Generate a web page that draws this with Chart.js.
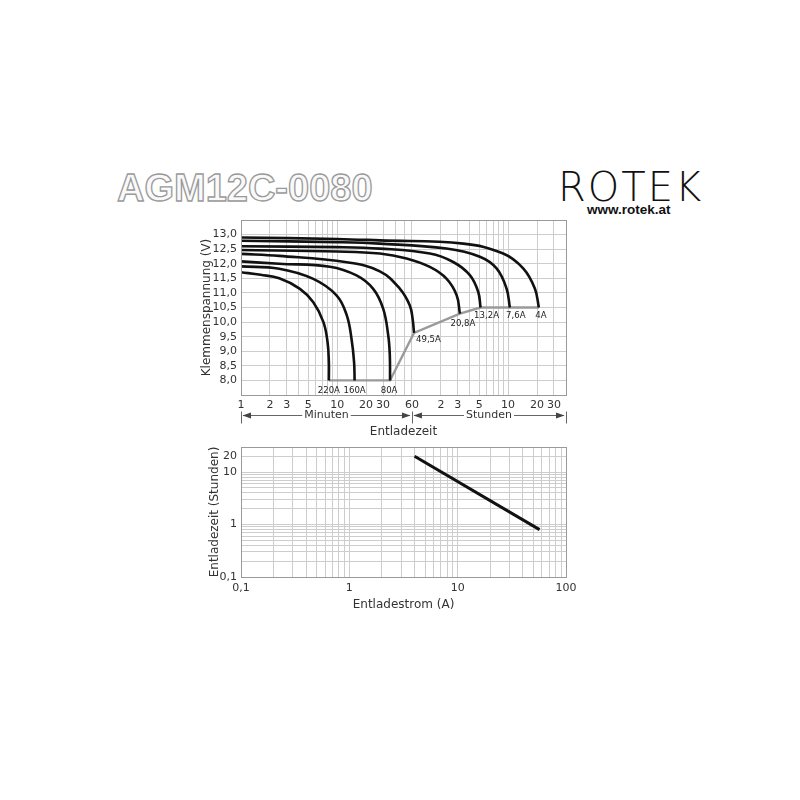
<!DOCTYPE html>
<html>
<head>
<meta charset="utf-8">
<title>AGM12C-0080</title>
<script src="https://cdn.jsdelivr.net/npm/chart.js@4.4.0/dist/chart.umd.min.js"></script>
<style>
    body { margin: 0; background: #fff; }
    #page { position: relative; width: 800px; height: 800px; overflow: hidden; }
    #page canvas { position: absolute; left: 0; top: 0; }
    #model { position: absolute; left: 117px; top: 168px; font: bold 38px "Liberation Sans", Arial, sans-serif; line-height: 40px; color: #f9f9f9; -webkit-text-stroke: 1.3px #9a9a9a; }
    #logo { position: absolute; left: 558px; top: 166px; font: 200 40px "DejaVu Sans", sans-serif; line-height: 42px; letter-spacing: 2px; color: #111; }
    #url { position: absolute; left: 587px; top: 202px; font: bold 13.5px "Liberation Sans", Arial, sans-serif; line-height: 15px; color: #111; }
</style>
</head>
<body>
<div id="page">
    <div id="model">AGM12C-0080</div>
    <div id="logo">ROTEK</div>
    <div id="url">www.rotek.at</div>
    <canvas id="voltChart" width="800" height="800"></canvas>
    <canvas id="timeChart" width="800" height="800"></canvas>
</div>
<script>
// discharge curves: [minutes, volts]
var currentLabels = ['220A', '160A', '80A', '49,5A', '20,8A', '13,2A', '7,6A', '4A'];
var curve220 = [[1, 11.71], [1.6, 11.62], [2.5, 11.5], [4.1, 11.14], [5.65, 10.68], [7.2, 10.0], [7.95, 9.31], [8.2, 8.63], [8.2, 8.0]];
var curve160 = [[1, 11.91], [2.5, 11.83], [5.65, 11.48], [9.9, 10.91], [12.6, 10.23], [14.1, 9.43], [15.0, 8.63], [15.2, 8.0]];
var curve80 = [[1, 12.08], [2.5, 12.0], [8.4, 11.9], [15.9, 11.6], [23.7, 11.14], [30.1, 10.46], [34, 9.54], [35.3, 8.86], [35.5, 8.0]];
var curve49 = [[1, 12.34], [2.5, 12.27], [12.6, 12.05], [27.8, 11.74], [45, 11.14], [57, 10.57], [61, 10.1], [63, 9.63]];
var curve20 = [[1, 12.47], [10, 12.42], [27.8, 12.35], [52.7, 12.18], [92, 11.89], [137, 11.49], [175, 10.92], [189, 10.29]];
var curve13 = [[1, 12.6], [10, 12.57], [27.8, 12.52], [92, 12.35], [161, 12.06], [240, 11.61], [293, 11.04], [310, 10.5]];
var curve7 = [[1, 12.79], [10, 12.74], [27.8, 12.69], [137, 12.52], [305, 12.24], [455, 11.84], [578, 11.15], [625, 10.5]];
var curve4 = [[1, 12.9], [10, 12.85], [27.8, 12.8], [205, 12.69], [533, 12.35], [861, 11.84], [1138, 11.15], [1253, 10.5]];
var cutoffLine = [[8.2, 8.0], [35.5, 8.0], [63, 9.63], [189, 10.29], [310, 10.5], [1253, 10.5]];

var timeTicks = [1, 2, 3, 4, 5, 6, 7, 8, 9, 10, 20, 30, 40, 50, 60, 120, 180, 240, 300, 360, 420, 480, 540, 600, 1200, 1800, 2400];
var timeTickText = ['1', '2', '3', '', '5', '', '', '', '', '10', '20', '30', '', '', '60', '2', '3', '', '5', '', '', '', '', '10', '20', '30', ''];

// discharge time vs current: [amps, hours]
var timeVsCurrent = [[4, 20], [57, 0.8]];
var ampTicks = [0.1, 0.2, 0.3, 0.4, 0.5, 0.6, 0.7, 0.8, 0.9, 1, 2, 3, 4, 5, 6, 7, 8, 9, 10, 20, 30, 40, 50, 60, 70, 80, 90, 100];
var ampTickText = { 0.1: '0,1', 1: '1', 10: '10', 100: '100' };
var hourTicks = [0.1, 0.2, 0.3, 0.4, 0.5, 0.6, 0.7, 0.8, 0.9, 1, 2, 3, 4, 5, 6, 7, 8, 9, 10, 20, 30];
var hourTickText = { 0.1: '0,1', 1: '1', 10: '10', 20: '20' };

var curves = [curve220, curve160, curve80, curve49, curve20, curve13, curve7, curve4];

var tickFont = { family: '"DejaVu Sans", Verdana, sans-serif', size: 11 };
var textColor = '#333';
var gridColor = '#cdcdcd';

function toXY(list) {
    return list.map(function (p) { return { x: p[0], y: p[1] }; });
}

// grey frame round the plot area
var framePlugin = {
    id: 'frame',
    afterDraw: function (chart) {
        var a = chart.chartArea, ctx = chart.ctx;
        ctx.save();
        ctx.strokeStyle = '#9a9a9a';
        ctx.lineWidth = 1;
        ctx.strokeRect(Math.round(a.left) + 0.5, Math.round(a.top) + 0.5, Math.round(a.right - a.left), Math.round(a.bottom - a.top));
        ctx.restore();
    }
};

// current labels at the end of each curve
var labelOffsets = [[0, 10, 'center'], [0, 10, 'center'], [-1, 10, 'center'], [2, 7, 'left'], [3, 10, 'center'], [6, 8, 'center'], [6, 8, 'center'], [2, 8, 'center']];
var curveLabelPlugin = {
    id: 'curveLabels',
    afterDatasetsDraw: function (chart) {
        var ctx = chart.ctx, xs = chart.scales.x, ys = chart.scales.y;
        ctx.save();
        ctx.font = '9.5px "DejaVu Sans Condensed", "DejaVu Sans", sans-serif';
        ctx.fillStyle = '#222';
        ctx.textBaseline = 'middle';
        curves.forEach(function (c, i) {
            var end = c[c.length - 1];
            var off = labelOffsets[i];
            ctx.textAlign = off[2];
            ctx.fillText(currentLabels[i], xs.getPixelForValue(end[0]) + off[0], ys.getPixelForValue(end[1]) + off[1]);
        });
        ctx.restore();
    }
};

// Minuten / Stunden arrows under the time axis
var arrowPlugin = {
    id: 'timeArrows',
    afterDraw: function (chart) {
        var ctx = chart.ctx, xs = chart.scales.x;
        var y = Math.round(chart.chartArea.bottom) + 20.5;
        var a = xs.getPixelForValue(1), b = xs.getPixelForValue(60), c = xs.getPixelForValue(2400);
        ctx.save();
        ctx.strokeStyle = '#666';
        ctx.fillStyle = '#444';
        ctx.lineWidth = 1;
        [a, b, c].forEach(function (x) {
            ctx.beginPath();
            ctx.moveTo(Math.round(x) + 0.5, y - 4);
            ctx.lineTo(Math.round(x) + 0.5, y + 8);
            ctx.stroke();
        });
        function segment(x1, x2, text) {
            ctx.beginPath();
            ctx.moveTo(x1 + 2, y);
            ctx.lineTo(x2 - 2, y);
            ctx.stroke();
            ctx.beginPath();
            ctx.moveTo(x1 + 1.5, y); ctx.lineTo(x1 + 10, y - 3); ctx.lineTo(x1 + 10, y + 3);
            ctx.closePath(); ctx.fill();
            ctx.beginPath();
            ctx.moveTo(x2 - 1.5, y); ctx.lineTo(x2 - 10, y - 3); ctx.lineTo(x2 - 10, y + 3);
            ctx.closePath(); ctx.fill();
            ctx.font = '11px "DejaVu Sans", Verdana, sans-serif';
            var w = ctx.measureText(text).width;
            var mid = (x1 + x2) / 2;
            ctx.fillStyle = '#fff';
            ctx.fillRect(mid - w / 2 - 2, y - 6, w + 4, 12);
            ctx.fillStyle = textColor;
            ctx.textAlign = 'center';
            ctx.textBaseline = 'middle';
            ctx.fillText(text, mid, y);
            ctx.fillStyle = '#444';
        }
        segment(a, b, 'Minuten');
        segment(b, c, 'Stunden');
        ctx.restore();
    }
};

var voltDatasets = curves.map(function (c) {
    return {
        data: toXY(c),
        borderColor: '#111',
        borderWidth: 2.6,
        pointRadius: 0,
        fill: false,
        tension: 0.4
    };
});
voltDatasets.push({
    data: toXY(cutoffLine),
    borderColor: '#9a9a9a',
    borderWidth: 2.4,
    pointRadius: 0,
    fill: false,
    tension: 0
});

new Chart(document.getElementById('voltChart').getContext('2d'), {
    type: 'line',
    data: { datasets: voltDatasets },
    options: {
        responsive: false,
        animation: false,
        layout: { padding: { left: 200, right: 234, top: 220, bottom: 361 } },
        plugins: { legend: { display: false }, tooltip: { enabled: false } },
        scales: {
            x: {
                type: 'logarithmic',
                min: 1,
                max: 2400,
                afterBuildTicks: function (scale) {
                    scale.ticks = timeTicks.map(function (v) { return { value: v }; });
                },
                afterFit: function (scale) { scale.height = 44; },
                ticks: {
                    autoSkip: false,
                    maxRotation: 0,
                    padding: 4,
                    font: tickFont,
                    color: textColor,
                    callback: function (value, index) { return timeTickText[index]; }
                },
                grid: { color: gridColor, drawTicks: false },
                border: { color: '#9a9a9a' },
                title: { display: true, text: 'Entladezeit', font: { family: tickFont.family, size: 12 }, color: textColor, padding: 0 }
            },
            y: {
                type: 'linear',
                min: 7.5,
                max: 13.5,
                afterFit: function (scale) { scale.width = 41; },
                ticks: {
                    autoSkip: false,
                    stepSize: 0.5,
                    padding: 4,
                    font: tickFont,
                    color: textColor,
                    callback: function (value) {
                        if (value < 8 || value > 13) return '';
                        return value.toFixed(1).replace('.', ',');
                    }
                },
                grid: { color: gridColor, drawTicks: false },
                border: { color: '#9a9a9a' },
                title: { display: true, text: 'Klemmenspannung (V)', font: { family: tickFont.family, size: 12 }, color: textColor, padding: 0 }
            }
        }
    },
    plugins: [framePlugin, curveLabelPlugin, arrowPlugin]
});

new Chart(document.getElementById('timeChart').getContext('2d'), {
    type: 'line',
    data: {
        datasets: [{
            data: toXY(timeVsCurrent),
            borderColor: '#111',
            borderWidth: 3,
            pointRadius: 0,
            fill: false
        }]
    },
    options: {
        responsive: false,
        animation: false,
        layout: { padding: { left: 208, right: 234, top: 447, bottom: 188 } },
        plugins: { legend: { display: false }, tooltip: { enabled: false } },
        scales: {
            x: {
                type: 'logarithmic',
                min: 0.1,
                max: 100,
                afterBuildTicks: function (scale) {
                    scale.ticks = ampTicks.map(function (v) { return { value: v }; });
                },
                afterFit: function (scale) { scale.height = 35; },
                ticks: {
                    autoSkip: false,
                    maxRotation: 0,
                    padding: 5,
                    font: tickFont,
                    color: textColor,
                    callback: function (value, index) { return ampTickText[ampTicks[index]] || ''; }
                },
                grid: { color: gridColor, drawTicks: false },
                border: { color: '#9a9a9a' },
                title: { display: true, text: 'Entladestrom (A)', font: { family: tickFont.family, size: 12 }, color: textColor, padding: 0 }
            },
            y: {
                type: 'logarithmic',
                min: 0.1,
                max: 30,
                afterBuildTicks: function (scale) {
                    scale.ticks = hourTicks.map(function (v) { return { value: v }; });
                },
                afterFit: function (scale) { scale.width = 33; },
                ticks: {
                    autoSkip: false,
                    padding: 4,
                    font: tickFont,
                    color: textColor,
                    callback: function (value, index) { return hourTickText[hourTicks[index]] || ''; }
                },
                grid: { color: gridColor, drawTicks: false },
                border: { color: '#9a9a9a' },
                title: { display: true, text: 'Entladezeit (Stunden)', font: { family: tickFont.family, size: 12 }, color: textColor, padding: 0 }
            }
        }
    },
    plugins: [framePlugin]
});
</script>
</body>
</html>
